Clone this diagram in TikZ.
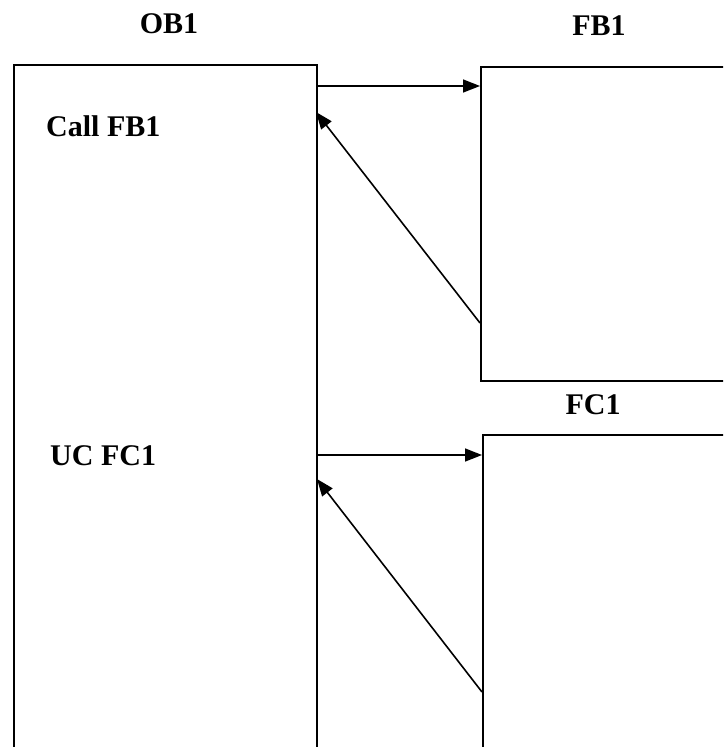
\documentclass[tikz,border=0pt]{standalone}
\usepackage{fontspec}
\setmainfont{Liberation Serif}
\usetikzlibrary{arrows.meta}
\begin{document}
\begin{tikzpicture}[x=1pt,y=-1pt,
  blk/.style={draw,line width=1.6pt,inner sep=0pt,anchor=north west},
  lbl/.style={inner sep=0pt,font=\fontsize{30}{36}\bfseries\selectfont},
  arr/.style={line width=1.6pt,-{Triangle[length=17pt,width=13pt]}}]
\useasboundingbox (0,0) rectangle (723,747);
\clip (0,0) rectangle (723,747);
\fill[white] (0,0) rectangle (723,747);
\node[blk,minimum width=303pt,minimum height=760pt] (ob1) at (13,64) {};
\node[blk,minimum width=320pt,minimum height=314pt] (fb1) at (480,66) {};
\node[blk,minimum width=320pt,minimum height=400pt] (fc1) at (482,434) {};
\node[lbl] (tob1) at (169,24) {OB1};
\node[lbl] (tfb1) at (599,26) {FB1};
\node[lbl] (tfc1) at (593,405) {FC1};
\node[lbl,anchor=west] (call) at (46,126) {Call FB1};
\node[lbl,anchor=west] (uc) at (50,456) {UC FC1};
\coordinate (a1s) at (316,86);
\coordinate (a1e) at (480,86);
\coordinate (a2s) at (480,323);
\coordinate (a2e) at (316,112);
\coordinate (a3s) at (316,455);
\coordinate (a3e) at (482,455);
\coordinate (a4s) at (482,692);
\coordinate (a4e) at (317,479);
\draw[arr] (a1s) -- (a1e);
\draw[arr] (a2s) -- (a2e);
\draw[arr] (a3s) -- (a3e);
\draw[arr] (a4s) -- (a4e);
\end{tikzpicture}
\end{document}
